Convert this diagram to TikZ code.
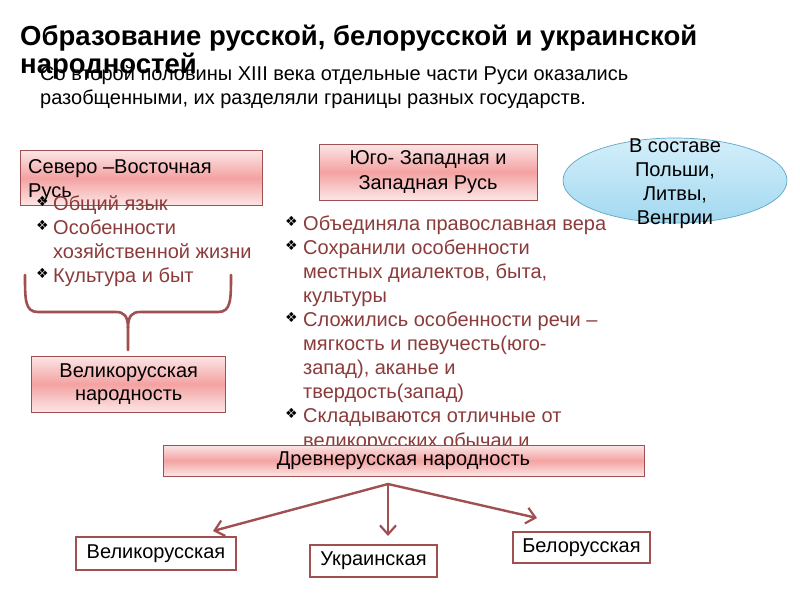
\documentclass[tikz,border=0pt]{standalone}
\usepackage{fontspec}
\setmainfont{Liberation Sans}
\newfontfamily\titlefont{Liberation Sans}
\newfontfamily\symfont{DejaVu Sans}
\usetikzlibrary{shapes.geometric,arrows.meta}
\definecolor{bord}{HTML}{A05050}
\definecolor{txtred}{HTML}{8C3B3B}
\definecolor{pinkmid}{HTML}{F4A2A2}
\definecolor{pinklight}{HTML}{FCE6E6}
\definecolor{bluetop}{HTML}{D4EFFA}
\definecolor{bluebot}{HTML}{A2D8F0}
\definecolor{blueborder}{HTML}{5FA6C6}
\tikzset{
  pinkbox/.style={draw=bord, line width=0.9pt, top color=pinklight, bottom color=pinklight, middle color=pinkmid, inner sep=0pt},
  whitebox/.style={draw=bord, line width=1.6pt, fill=white, inner sep=0pt},
  txt/.style={font=\fontsize{20}{24}\selectfont, inner sep=0pt},
  btxt/.style={font=\fontsize{20}{24}\selectfont, text=txtred, inner sep=0pt, anchor=base west},
  bul/.style={font=\symfont\fontsize{14}{14}\selectfont, inner sep=0pt, anchor=base west},
  brace/.style={draw=bord, line width=2.6pt},
  conn/.style={draw=bord, line width=2.4pt, -{Straight Barb[length=9pt,width=16pt,line width=2.2pt]}},
}
\begin{document}
\begin{tikzpicture}[x=1pt,y=-1pt]
\useasboundingbox (0,0) rectangle (800,600);
\fill[white] (0,0) rectangle (800,600);
% title
\node[anchor=base west, inner sep=0pt, font=\titlefont\bfseries\fontsize{27.5}{30}\selectfont] (t1) at (20,45) {Образование русской, белорусской и украинской};
\node[anchor=base west, inner sep=0pt, font=\titlefont\bfseries\fontsize{27.5}{30}\selectfont] (t2) at (20,73) {народностей};
\node[anchor=base west, txt] (s1) at (40,80) {Со второй половины XIII века отдельные части Руси оказались};
\node[anchor=base west, txt] (s2) at (40,104) {разобщенными, их разделяли границы разных государств.};
% left box
\node[pinkbox, minimum width=242pt, minimum height=55pt] (nw) at (141,178) {};
\node[txt, anchor=base west] (nw1) at (28,173) {Северо –Восточная};
\node[txt, anchor=base west] (nw2) at (28,197) {Русь};
% left bullets
\node[bul] (lb1) at (36,206) {❖};
\node[btxt] (l1) at (53,210) {Общий язык};
\node[bul] (lb2) at (36,230) {❖};
\node[btxt] (l2) at (53,234) {Особенности};
\node[btxt] (l3) at (53,258) {хозяйственной жизни};
\node[bul] (lb3) at (36,278) {❖};
\node[btxt] (l4) at (53,282) {Культура и быт};
% brace
\draw[brace, line cap=round] (25,275) .. controls (25,300) and (25,312) .. (38,312) -- (116,312) .. controls (124,312) and (128,316) .. (128,328) -- (128,350);
\draw[brace, line cap=round] (231,275) .. controls (231,300) and (231,312) .. (218,312) -- (140,312) .. controls (132,312) and (128,316) .. (128,328);
% great russian nation box
\node[pinkbox, minimum width=194pt, minimum height=56pt, align=center, font=\fontsize{20}{23}\selectfont] (vn) at (128.7,384) {Великорусская\\народность};
% middle box
\node[pinkbox, minimum width=218pt, minimum height=56pt, align=center, font=\fontsize{20}{24.5}\selectfont] (sw) at (428,172) {Юго- Западная и\\Западная Русь};
% ellipse
\node[ellipse, draw=blueborder, line width=0.7pt, top color=bluetop, bottom color=bluebot, minimum width=224pt, minimum height=85pt, inner sep=0pt] (el) at (675,180.5) {};
\node[txt, align=center, font=\fontsize{20}{24}\selectfont, anchor=base] (elt) at (675,224) {В составе\\Польши,\\Литвы,\\Венгрии};
% right bullets
\node[bul] (rb1) at (285,226) {❖};
\node[btxt] (r1) at (303,230) {Объединяла православная вера};
\node[bul] (rb2) at (285,250) {❖};
\node[btxt] (r2) at (303,254) {Сохранили особенности};
\node[btxt] (r3) at (303,278) {местных диалектов, быта,};
\node[btxt] (r4) at (303,302) {культуры};
\node[bul] (rb3) at (285,322) {❖};
\node[btxt] (r5) at (303,326) {Сложились особенности речи –};
\node[btxt] (r6) at (303,350) {мягкость и певучесть(юго-};
\node[btxt] (r7) at (303,374) {запад), аканье и};
\node[btxt] (r8) at (303,398) {твердость(запад)};
\node[bul] (rb4) at (285,418) {❖};
\node[btxt] (r9) at (303,422) {Складываются отличные от};
\node[btxt] (r10) at (303,447) {великорусских обычаи и};
% old russian box
\node[pinkbox, minimum width=481pt, minimum height=31pt, font=\fontsize{20}{24}\selectfont] (dr) at (403.5,460.5) {Древнерусская народность};
% bottom boxes
\node[whitebox, minimum width=160pt, minimum height=33pt, font=\fontsize{20}{24}\selectfont] (bv) at (156,553.5) {Великорусская};
\node[whitebox, minimum width=127pt, minimum height=32pt, font=\fontsize{20}{24}\selectfont] (bu) at (373.5,561) {Украинская};
\node[whitebox, minimum width=137pt, minimum height=31pt, font=\fontsize{20}{24}\selectfont] (bb) at (581.5,547.5) {Белорусская};
% arrows
\coordinate (split) at (388,484);
\coordinate (tipL) at (213,531);
\coordinate (tipD) at (388,536);
\coordinate (tipR) at (537,518);
\draw[conn] (split) -- (tipL);
\draw[conn] (split) -- (tipD);
\draw[conn] (split) -- (tipR);
\end{tikzpicture}
\end{document}
